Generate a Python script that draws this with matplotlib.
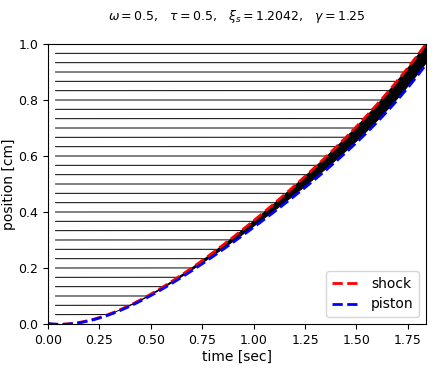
import numpy as np
import matplotlib
matplotlib.use("Agg")
import matplotlib.pyplot as plt

# values
t_pts = [0.0, 0.125, 0.25, 0.375, 0.5, 0.75, 1.0, 1.25, 1.5, 1.75, 1.838]
piston_pts = [0.0, 0.006, 0.020, 0.052, 0.100, 0.222, 0.342, 0.485, 0.650, 0.845, 0.926]
shock_pts = [0.0, 0.006, 0.021, 0.055, 0.106, 0.236, 0.364, 0.523, 0.710, 0.915, 1.0]
x0_particles = np.arange(1, 30) / 30.0
t_start = 0.035

# smooth curves through the read points
t = np.linspace(t_pts[0], t_pts[-1], 800)
piston = np.polyval(np.polyfit(t_pts, piston_pts, 4), t)
shock = np.polyval(np.polyfit(t_pts, shock_pts, 4), t)
piston[0] = shock[0] = 0.0

fig = plt.figure(figsize=(4.34, 3.68), dpi=100)
ax = fig.add_axes([0.1106, 0.1196, 0.871, 0.7608])

# particle paths: at rest until the shock passes, then swept toward the piston
mask = t >= t_start
tt, xp, xs = t[mask], piston[mask], shock[mask]
for x0 in x0_particles:
    tc = np.interp(x0, shock, t)
    path = np.where(tt < tc, x0, xp + (xs - xp) * (tc / tt) ** 1.5)
    ax.plot(tt, path, 'k-', lw=0.7)

ax.plot(t, shock, 'r--', lw=2, label='shock')
ax.plot(t, piston, 'b--', lw=2, label='piston')

ax.set_xlim(0, t_pts[-1])
ax.set_ylim(0, 1)
ax.tick_params(labelsize=9)
ax.set_xlabel('time [sec]', fontsize=10, labelpad=2)
ax.set_ylabel('position [cm]', fontsize=10, labelpad=2)
ax.set_title(r'$\omega = 0.5$,   $\tau = 0.5$,   $\xi_s = 1.2042$,   $\gamma = 1.25$',
             fontsize=9, pad=17)
ax.legend(loc='lower right', fontsize=10)

fig.savefig('out.png', dpi=100)
